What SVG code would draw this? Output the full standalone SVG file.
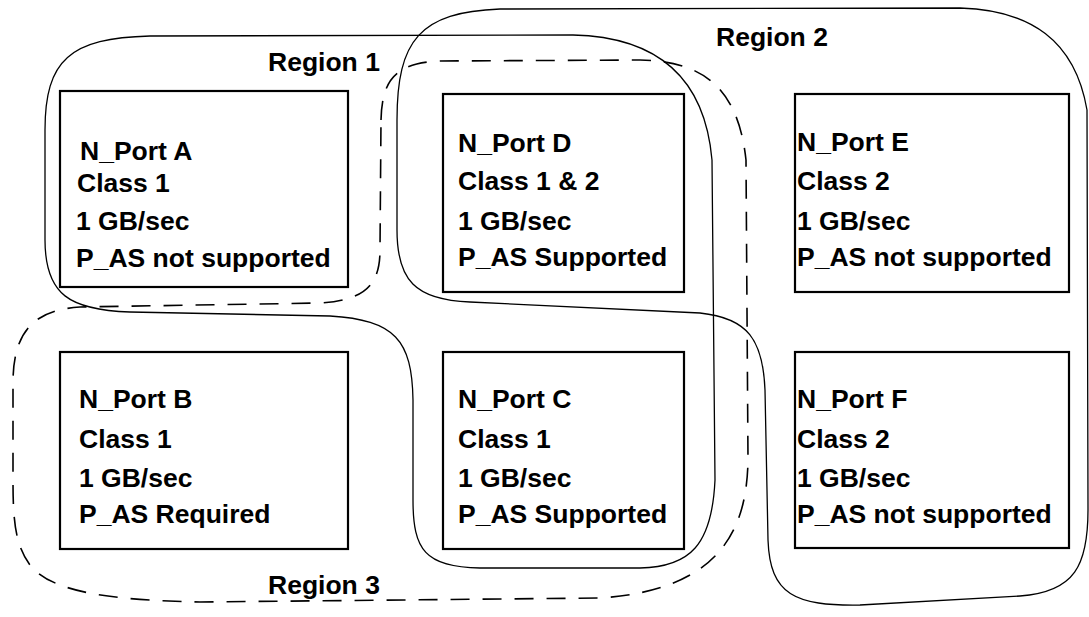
<svg xmlns="http://www.w3.org/2000/svg" width="1089" height="617" viewBox="0 0 1089 617">
<style>
.box{fill:#fff;stroke:#000;stroke-width:2.2}
.t{font-family:"Liberation Sans",Arial,sans-serif;font-weight:bold;font-size:26.5px;fill:#000}
.reg{fill:none;stroke:#000;stroke-width:1.3}
.dash{fill:none;stroke:#000;stroke-width:1.6;stroke-dasharray:19 13}
</style>
<rect width="1089" height="617" fill="#fff"/>
<g id="nodes">
<g id="nportA"><rect class="box" x="60" y="91" width="288" height="196"/>
<text class="t" x="80" y="160">N_Port A</text><text class="t" x="77" y="192">Class 1</text><text class="t" x="76" y="230">1 GB/sec</text><text class="t" x="76" y="267">P_AS not supported</text></g>
<g id="nportD"><rect class="box" x="443" y="94" width="241" height="198"/>
<text class="t" x="458" y="152">N_Port D</text><text class="t" x="458" y="190">Class 1 &amp; 2</text><text class="t" x="458" y="230">1 GB/sec</text><text class="t" x="458" y="266">P_AS Supported</text></g>
<g id="nportE"><rect class="box" x="795" y="94" width="274" height="198"/>
<text class="t" x="797" y="151">N_Port E</text><text class="t" x="797" y="190">Class 2</text><text class="t" x="797" y="230">1 GB/sec</text><text class="t" x="797" y="266">P_AS not supported</text></g>
<g id="nportB"><rect class="box" x="60" y="352" width="288" height="197"/>
<text class="t" x="79" y="408">N_Port B</text><text class="t" x="79" y="448">Class 1</text><text class="t" x="79" y="487">1 GB/sec</text><text class="t" x="79" y="523">P_AS Required</text></g>
<g id="nportC"><rect class="box" x="443" y="352" width="241" height="197"/>
<text class="t" x="458" y="408">N_Port C</text><text class="t" x="458" y="448">Class 1</text><text class="t" x="458" y="487">1 GB/sec</text><text class="t" x="458" y="523">P_AS Supported</text></g>
<g id="nportF"><rect class="box" x="795" y="352" width="274" height="196"/>
<text class="t" x="797" y="408">N_Port F</text><text class="t" x="797" y="448">Class 2</text><text class="t" x="797" y="487">1 GB/sec</text><text class="t" x="797" y="523">P_AS not supported</text></g>
</g>
<g id="regions">
<g id="region1"><path class="reg" d="M45,130 C45,60 70,38 150,36 L573,35 C660,37 705,80 712,160 L715,480 C712,545 690,567 640,568 L480,568 C425,567 413,550 413,500 L413,400 C412,340 395,320 330,316 L130,312 C70,310 45,295 45,240 Z"/>
<text class="t" x="268" y="71">Region 1</text></g>
<g id="region2"><path class="reg" d="M397,120 C397,40 420,12 500,9 L960,8 C1030,10 1075,40 1087,110 L1088,510 C1088,565 1075,592 1020,596 L860,605 C795,606 770,595 768,540 L765,390 C763,340 748,318 700,313 L470,302 C415,300 397,280 397,230 Z"/>
<text class="t" x="716" y="46">Region 2</text></g>
<g id="region3"><path class="dash" d="M381,120 C382,80 395,63 440,61 L640,60 C700,61 738,85 746,160 L748,460 C747,530 720,590 600,598 L200,602 C100,600 50,590 30,565 C15,545 13,520 13,480 L13,380 C14,330 35,310 80,307 L320,303 C365,300 380,285 380,250 Z"/>
<text class="t" x="268" y="594">Region 3</text></g>
</g>
</svg>
